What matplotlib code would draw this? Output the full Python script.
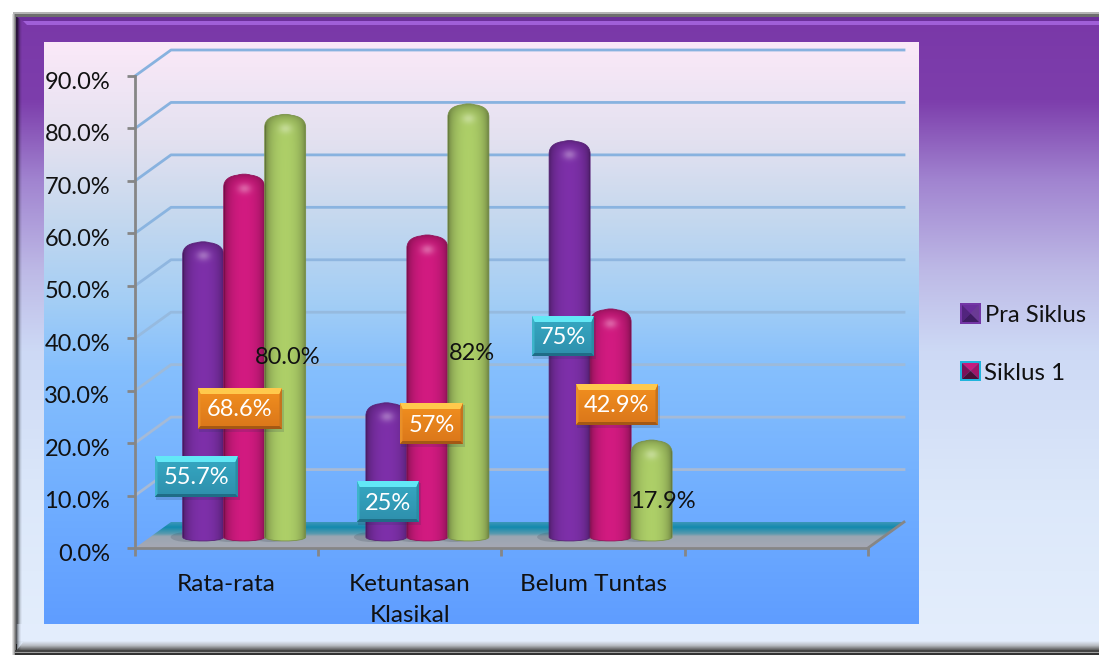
import numpy as np
import matplotlib
matplotlib.use('Agg')
import matplotlib.pyplot as plt
from matplotlib.path import Path
from matplotlib.patches import PathPatch, Polygon, Ellipse, Rectangle
from matplotlib.colors import to_rgb
from matplotlib.transforms import ScaledTranslation

plt.rcParams['font.family'] = ['Lato', 'DejaVu Sans']

# Data
categories = ['Rata-rata', 'Ketuntasan\nKlasikal', 'Belum Tuntas', '']
pra_siklus = [55.7, 25, 75]
siklus_1 = [68.6, 57, 42.9]
siklus_2 = [80.0, 82, 17.9]
pra_labels = ['55.7%', '25%', '75%']
siklus_1_labels = ['68.6%', '57%', '42.9%']
siklus_2_labels = ['80.0%', '82%', '17.9%']
y_ticks = [0, 10, 20, 30, 40, 50, 60, 70, 80, 90]

W, H = 1099, 655

# Layout, in image pixels
plot_left, plot_right, plot_bottom, plot_top = 135, 868, 548, 76
px_x = (plot_right - plot_left) / 4      # pixels per category
px_y = (plot_bottom - plot_top) / 90     # pixels per percent
depth_x = 36 / px_x
depth_y = 26 / px_y
bar_shift_x = 17.5 / px_x
bar_shift_y = 13.9 / px_y
bar_width = 41 / px_x

pra_boxes = [(155, 456, 238, 497), (357, 481, 419, 522), (532, 316, 594, 356)]
s1_boxes = [(198, 388, 282, 429), (400, 403, 463, 444), (576, 384, 658, 425)]
s2_text_pos = [(288, 357), (472, 354), (663, 502)]

fig = plt.figure(figsize=(W / 100, H / 100), dpi=100, facecolor='white')


def gradient(stops, n=256):
    pos = [s[0] for s in stops]
    cols = np.array([to_rgb(s[1]) for s in stops])
    t = np.linspace(pos[0], pos[-1], n)
    return np.stack([np.interp(t, pos, cols[:, i]) for i in range(3)], axis=1)[:, None, :]


# Background panels
bg = fig.add_axes([0, 0, 1, 1], zorder=0)
bg.set_xlim(0, W)
bg.set_ylim(H, 0)
bg.axis('off')

outer = [(17, '#7A38A8'), (100, '#7D3EAC'), (180, '#A184D0'), (270, '#BDB9E6'),
         (350, '#CDD9F5'), (500, '#DCE8FA'), (645, '#E4EEFC')]
bg.imshow(gradient(outer), extent=[16, W, 645, 17], aspect='auto', zorder=1)
inner = [(42, '#FBE9F8'), (140, '#E3E1F0'), (210, '#C8D9EE'), (300, '#A4CEF5'),
         (370, '#85BFFD'), (500, '#70AEFF'), (624, '#5F9DFF')]
bg.imshow(gradient(inner), extent=[44, 919, 624, 42], aspect='auto', zorder=2)

# frame edges
shadow = np.zeros((1, 8, 4))
shadow[0, :, 3] = [0.12, 0.3, 0.5, 0.65, 0.62, 0.35, 0.15, 0.04]
bg.imshow(shadow, extent=[12, 22, 655, 14], aspect='auto', interpolation='bilinear', zorder=3)
bg.add_patch(Rectangle((13, 12), W, 2, fc='#B5B5B5', ec='none', zorder=3))
bg.add_patch(Rectangle((15, 14), W, 2.5, fc='#6E6E6E', ec='none', zorder=3))
bg.add_patch(Polygon([(17, 16.5), (W, 16.5), (W, 21), (23, 21)], fc='#6C2F9A', ec='none', zorder=4))
bg.add_patch(Polygon([(23, 21), (W, 21), (W, 24.5), (27, 24.5)], fc='#A05FD8', ec='none', zorder=4))
bg.set_xlim(0, W)
bg.set_ylim(H, 0)

# Main axes, front plane of the 3D box
ax = fig.add_axes([plot_left / W, 1 - plot_bottom / H,
                   (plot_right - plot_left) / W, (plot_bottom - plot_top) / H], zorder=1)
ax.patch.set_alpha(0)
ax.set_xlim(0, 4)
ax.set_ylim(0, 90)

for s in ['top', 'right']:
    ax.spines[s].set_visible(False)
for s in ['left', 'bottom']:
    ax.spines[s].set_color('#868686')
    ax.spines[s].set_linewidth(2)
    ax.spines[s].set_zorder(1)

ax.set_yticks(y_ticks)
ax.set_yticklabels(['%.1f%%' % v for v in y_ticks], fontsize=17, color='#111111')
ax.set_xticks(range(5))
ax.set_xticklabels([])
ax.set_xticks(np.arange(4) + 0.5, minor=True)
ax.set_xticklabels(categories, minor=True, fontsize=17.5, color='#111111', linespacing=1.6)
ax.tick_params(axis='y', length=6, width=2, color='#868686', pad=12)
ax.tick_params(axis='x', which='major', length=6, width=2, color='#868686')
ax.tick_params(axis='x', which='minor', length=0, pad=18.5)
nudge = ScaledTranslation(0, -3 / 72, fig.dpi_scale_trans)
for lab in ax.get_yticklabels():
    lab.set_transform(lab.get_transform() + nudge)

# walls: gridlines run along the side wall then the back wall
grid_cols = ['#A3B5CF', '#A8BAD4', '#A5BAD6', '#9DBAD9', '#96BADF',
             '#8FB6E0', '#8AB4E0', '#88B2DF', '#88B2DF', '#88B2DF']
for v, c in zip(y_ticks, grid_cols):
    if v == 0:
        continue
    ax.plot([0, depth_x, 4 + depth_x], [v, v + depth_y, v + depth_y], color=c, lw=2,
            clip_on=False, zorder=0.5)

# floor
floor_corners = [(0, 0), (4, 0), (4 + depth_x, depth_y), (depth_x, depth_y)]
floor_grad = gradient([(0, '#3D97B8'), (0.2, '#138AAE'), (0.45, '#5A9AAE'),
                       (0.55, '#9AA6B2'), (1, '#A6A8B4')])
floor_im = ax.imshow(floor_grad, extent=[0, 4 + depth_x, 0, depth_y], aspect='auto', zorder=0.6)
floor_patch = Polygon(floor_corners, transform=ax.transData, fc='none', ec='none')
ax.add_patch(floor_patch)
floor_im.set_clip_box(fig.bbox)
floor_im.set_clip_path(floor_patch)
ax.plot([4, 4 + depth_x], [0, depth_y], color='#868686', lw=2, clip_on=False, zorder=0.7)
ax.set_xlim(0, 4)
ax.set_ylim(0, 90)

bar_foot = 7 / px_y    # lowest point of a cylinder, above the front edge of the floor


def cylinder_path(x0, x1, top):
    rx, ry = 14 / px_x, 13 / px_y
    side = bar_foot + 4 / px_y
    ctrl = bar_foot - 1.3 / px_y
    mid = (x0 + x1) / 2
    verts = [(x0, side), (x0, top - ry),
             (x0, top - ry * 0.4), (x0 + rx * 0.45, top - 0.3), (x0 + rx, top - 0.15),
             (mid - 3 / px_x, top + 0.1), (mid + 3 / px_x, top + 0.1), (x1 - rx, top - 0.15),
             (x1 - rx * 0.45, top - 0.3), (x1, top - ry * 0.4), (x1, top - ry),
             (x1, side),
             (x1, ctrl), (x0, ctrl), (x0, side), (x0, side)]
    codes = [Path.MOVETO, Path.LINETO] + [Path.CURVE4] * 9 + [Path.LINETO] + [Path.CURVE4] * 3 + [Path.CLOSEPOLY]
    return Path(verts, codes)


def shaded_bar(rect, color, z):
    x0 = rect.get_x() + bar_shift_x
    x1 = x0 + rect.get_width()
    top = rect.get_height() + bar_shift_y
    h_px = int((top - bar_foot) * px_y) + 1
    w_px = int(rect.get_width() * px_x) + 1
    xx, yy = np.meshgrid(np.linspace(-1, 1, w_px), np.arange(h_px))
    shade = 0.58 + 0.44 * np.sqrt(np.clip(1 - xx ** 2, 0, 1))
    # darker rim at the top of the cap, then a bright spot below it
    shade = shade * (1 - 0.25 * np.exp(-yy / 6.0))
    rgb = np.array(to_rgb(color))
    img = np.clip(rgb[None, None, :] * shade[:, :, None], 0, 1)
    glow = 0.3 * np.exp(-((xx * w_px / 2 / 7) ** 2 + ((yy - 14) / 5) ** 2))
    img = img + (1 - img) * glow[:, :, None]
    im = ax.imshow(img, extent=[x0, x1, bar_foot, top], aspect='auto', origin='upper',
                   interpolation='bilinear', zorder=z)
    path = cylinder_path(x0, x1, top)
    clip = PathPatch(path, transform=ax.transData, fc='none', ec='none')
    ax.add_patch(clip)
    im.set_clip_box(fig.bbox)
    im.set_clip_path(clip)
    # thin outline hides the jagged clip edge
    ax.add_patch(PathPatch(path, fc='none', ec=tuple(rgb * 0.72), lw=0.6, zorder=z, clip_on=False))
    # contact shadow on the floor
    ax.add_patch(Ellipse((x0 + 6 / px_x, bar_foot + 4 / px_y), 36 / px_x, 10 / px_y,
                         fc='#33404F', ec='none', alpha=0.2, zorder=0.8, clip_on=False))


x_pos = np.arange(3) + 0.5
series = [(pra_siklus, '#7B2FA6', -bar_width, 2), (siklus_1, '#CE1A7E', 0, 3), (siklus_2, '#AACB66', bar_width, 4)]
for vals, col, off, z in series:
    bars = ax.bar(x_pos + off, vals, bar_width, fill=False, linewidth=0)
    for rect in bars:
        shaded_bar(rect, col, z)
ax.set_xlim(0, 4)
ax.set_ylim(0, 90)

# Overlay in pixels: labels, legend, bottom of the frame
top = fig.add_axes([0, 0, 1, 1], zorder=2)
top.set_xlim(0, W)
top.set_ylim(H, 0)
top.axis('off')

CYAN = dict(face=[(0, '#36A9C3'), (1, '#2E8FAC')], t='#62E8F6', l='#3DB4CA', r='#2A8CA4', b='#1F6C86')
ORANGE = dict(face=[(0, '#F2901F'), (1, '#DA761A')], t='#FFC94C', l='#E98F28', r='#C5731E', b='#A45814')


def bevel_box(x0, y0, x1, y1, pal, text):
    top.add_patch(Rectangle((x0 + 1, y0 + 2), x1 - x0 + 1, y1 - y0 + 1, fc='#1F3050', ec='none', alpha=0.16, zorder=1))
    top.imshow(gradient(pal['face']), extent=[x0, x1, y1, y0], aspect='auto', zorder=2)
    e_t, e_s, e_b = 6, 2.5, 3
    top.add_patch(Polygon([(x0, y0), (x1, y0), (x1 - e_s, y0 + e_t), (x0 + e_s, y0 + e_t)], fc=pal['t'], ec='none', zorder=3))
    top.add_patch(Polygon([(x0, y0), (x0 + e_s, y0 + e_t), (x0 + e_s, y1 - e_b), (x0, y1)], fc=pal['l'], ec='none', zorder=3))
    top.add_patch(Polygon([(x1, y0), (x1 - e_s, y0 + e_t), (x1 - e_s, y1 - e_b), (x1, y1)], fc=pal['r'], ec='none', zorder=3))
    top.add_patch(Polygon([(x0, y1), (x1, y1), (x1 - e_s, y1 - e_b), (x0 + e_s, y1 - e_b)], fc=pal['b'], ec='none', zorder=3))
    top.text((x0 + x1) / 2, (y0 + y1) / 2 + 1.5, text, color='white', fontsize=17,
             ha='center', va='center', zorder=4)


for box, lab in zip(pra_boxes, pra_labels):
    bevel_box(*box, CYAN, lab)
for box, lab in zip(s1_boxes, siklus_1_labels):
    bevel_box(*box, ORANGE, lab)
for (tx, ty), lab in zip(s2_text_pos, siklus_2_labels):
    top.text(tx, ty, lab, color='#111111', fontsize=17, ha='center', va='center', zorder=4)


def swatch(x0, y0, x1, y1, border, faces):
    cx, cy = (x0 + x1) / 2, (y0 + y1) / 2
    top.add_patch(Rectangle((x0, y0), x1 - x0, y1 - y0, fc=border, ec='none', zorder=2))
    a, b, c, d = x0 + 2, y0 + 2, x1 - 2, y1 - 2
    top.add_patch(Polygon([(a, b), (c, b), (cx, cy)], fc=faces[0], ec='none', zorder=3))
    top.add_patch(Polygon([(a, b), (a, d), (cx, cy)], fc=faces[1], ec='none', zorder=3))
    top.add_patch(Polygon([(c, b), (c, d), (cx, cy)], fc=faces[2], ec='none', zorder=3))
    top.add_patch(Polygon([(a, d), (c, d), (cx, cy)], fc=faces[3], ec='none', zorder=3))


swatch(960, 303, 981, 324, '#7436A6', ['#6A2F9C', '#52247E', '#6A3A94', '#3E1C62'])
swatch(960, 361, 981, 381, '#1FB4DC', ['#C81C7E', '#7C1258', '#A01668', '#4A0F36'])
top.text(985, 315, 'Pra Siklus', fontsize=17.2, color='#111111', ha='left', va='center', zorder=4)
top.text(984, 373, 'Siklus 1', fontsize=17.4, color='#111111', ha='left', va='center', zorder=4)

# bottom of the frame sits over the clipped category label
top.add_patch(Rectangle((16, 624), W, 20, fc='#E3EDFC', ec='none', zorder=5))
top.imshow(gradient([(0, '#E3EDFC'), (0.5, '#B8BCC2'), (1, '#5A5A5A')]),
           extent=[17, W, 650, 641], aspect='auto', zorder=6)
top.add_patch(Polygon([(17, 641), (24, 641), (17, 650)], fc='#DCE6F4', ec='none', zorder=7))
shade_l = np.zeros((1, 6, 4))
shade_l[0, :, 3] = [0.62, 0.42, 0.25, 0.12, 0.05, 0.0]
top.imshow(shade_l, extent=[16, 22, 650, 624], aspect='auto', interpolation='bilinear', zorder=7)
top.add_patch(Rectangle((15, 650), W, 1.5, fc='#444444', ec='none', zorder=8))
top.add_patch(Rectangle((15, 651.5), W, 1.5, fc='#A0A0A0', ec='none', zorder=8))
top.add_patch(Rectangle((15, 653), W, 2, fc='#333333', ec='none', zorder=8))
top.set_xlim(0, W)
top.set_ylim(H, 0)

fig.savefig('out.png', dpi=100)
